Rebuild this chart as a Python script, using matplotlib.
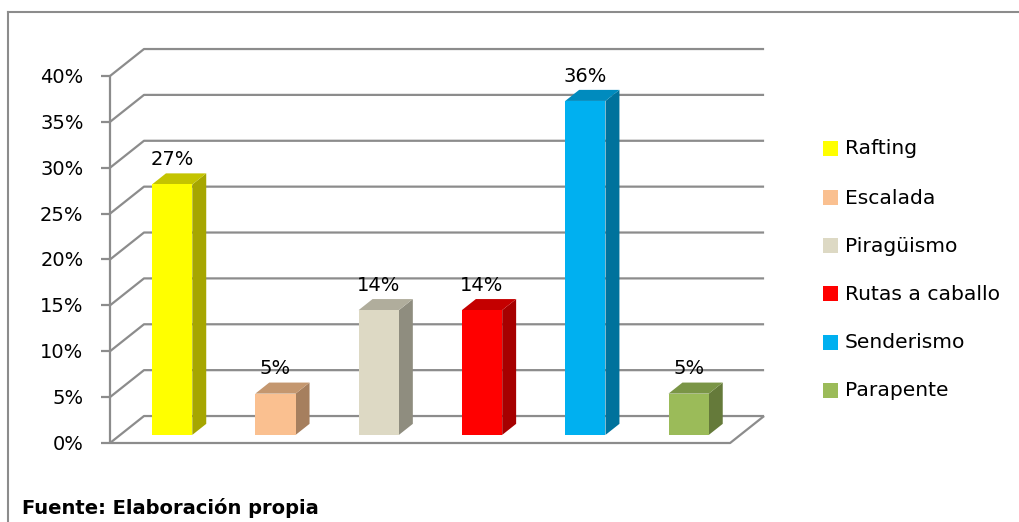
import matplotlib
matplotlib.use("Agg")
import matplotlib.pyplot as plt
from matplotlib.patches import Polygon, Rectangle
from matplotlib.lines import Line2D

# ---------------- data ----------------
categories = ["Rafting", "Escalada", "Piragüismo", "Rutas a caballo", "Senderismo", "Parapente"]
values = [27.3, 4.5, 13.6, 13.6, 36.4, 4.5]
value_labels = ["27%", "5%", "14%", "14%", "36%", "5%"]
y_ticks = [0, 5, 10, 15, 20, 25, 30, 35, 40]
y_tick_labels = ["0%", "5%", "10%", "15%", "20%", "25%", "30%", "35%", "40%"]
source_text = "Fuente: Elaboración propia"

front_colors = ["#FFFF00", "#FAC090", "#DDD9C4", "#FF0000", "#00B0F0", "#9BBB59"]
side_colors = ["#A6A600", "#A67F5E", "#8F8D7F", "#A60000", "#00729C", "#657A3A"]
top_colors = ["#C4C400", "#C4976F", "#B0AD9C", "#C40000", "#008BBE", "#7A9546"]

# ---------------- geometry (style) ----------------
W, H, DPI = 1019, 522, 100
DX, DY = 0.329, 2.94          # depth offset of the back wall (category units, %)
T0, T1 = 0.30, 0.71           # bar depth range
BW = 0.39                     # bar width
XL, XR = -0.503, 5.50         # floor extent (front plane)
GRID = "#8C8C8C"
FONT = "DejaVu Sans"
FS = 14

fig = plt.figure(figsize=(W / DPI, H / DPI), dpi=DPI)
fig.patch.set_facecolor("white")

# axes placed so that 1 category = 103.3 px and 1 % = 9.175 px
px_cat, px_pct = 103.3, 9.175
ax_left_px, ax_bottom_px = 110, 443
x_span = 654 / px_cat
y_span = 394 / px_pct
ax = fig.add_axes([ax_left_px / W, (H - ax_bottom_px) / H, 654 / W, 394 / H])
ax.set_xlim(XL, XL + x_span)
ax.set_ylim(0, y_span)
ax.axis("off")


def P(x, y, t):
    return (x + t * DX, y + t * DY)


def line(pts, **kw):
    xs, ys = zip(*pts)
    ax.add_line(Line2D(xs, ys, color=GRID, lw=1.6, clip_on=False,
                       solid_capstyle="butt", **kw))


ymax = max(y_ticks)
# gridlines on side and back walls
for v in y_ticks:
    line([P(XL, v, 0), P(XL, v, 1), P(XR, v, 1)])
# front-left axis & ticks
line([P(XL, 0, 0), P(XL, ymax, 0)])
for v, lab in zip(y_ticks, y_tick_labels):
    line([P(XL - 9 / px_cat, v, 0), P(XL, v, 0)])
    ax.annotate(lab, xy=P(XL, v, 0), xytext=(-19, -1), textcoords="offset points",
                ha="right", va="center", fontsize=FS, family=FONT,
                color="#000000", annotation_clip=False)
# floor edges
line([P(XL, 0, 0), P(XR, 0, 0), P(XR, 0, 1)])

# bars
for i, (v, fc, sc, tc, lab) in enumerate(zip(values, front_colors, side_colors,
                                             top_colors, value_labels)):
    xl, xr = i - BW / 2, i + BW / 2
    front = [P(xl, 0, T0), P(xr, 0, T0), P(xr, v, T0), P(xl, v, T0)]
    side = [P(xr, 0, T0), P(xr, 0, T1), P(xr, v, T1), P(xr, v, T0)]
    top = [P(xl, v, T0), P(xr, v, T0), P(xr, v, T1), P(xl, v, T1)]
    for poly, c in ((side, sc), (top, tc), (front, fc)):
        ax.add_patch(Polygon(poly, closed=True, facecolor=c, edgecolor="none",
                             clip_on=False, zorder=3))
    cx, _ = P(i, v, T0)
    _, ty = P(i, v, T1)
    ax.annotate(lab, xy=(cx, ty), xytext=(0, 6), textcoords="offset points",
                ha="center", va="baseline", fontsize=FS, family=FONT,
                color="#000000", zorder=4, annotation_clip=False)

# legend
leg_y = [148, 197, 245, 293, 342, 390]
for c, lab, yp in zip(front_colors, categories, leg_y):
    fig.patches.append(Rectangle((823 / W, (H - yp - 7.5) / H), 15 / W, 15 / H,
                                 transform=fig.transFigure, facecolor=c,
                                 edgecolor="none"))
    fig.text(845 / W, (H - yp - 1) / H, lab, ha="left", va="center", fontsize=14.6,
             family=FONT, color="#000000")

# outer frame
fig.add_artist(Line2D([8 / W, 8 / W], [0, (H - 12) / H], color="#8C8C8C", lw=1.5,
                      transform=fig.transFigure))
fig.add_artist(Line2D([8 / W, 1], [(H - 12) / H, (H - 12) / H], color="#8C8C8C",
                      lw=1.5, transform=fig.transFigure))

fig.text(22 / W, (H - 508) / H, source_text, ha="left", va="center", fontsize=14,
         fontweight="bold", family=FONT, color="#000000")

fig.savefig("out.png", dpi=DPI, facecolor="white")
